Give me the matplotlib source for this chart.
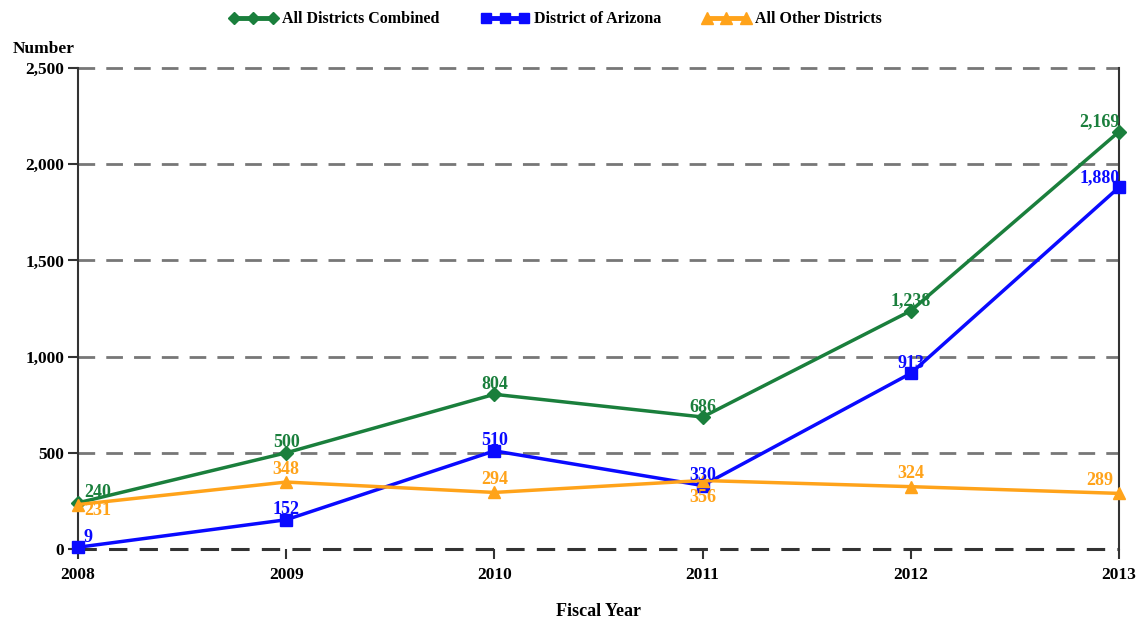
import matplotlib.pyplot as plt

# --- DANE ---
years = [2008, 2009, 2010, 2011, 2012, 2013]
combined = [240, 500, 804, 686, 1238, 2169]
arizona = [9, 152, 510, 330, 913, 1880]
others = [231, 348, 294, 356, 324, 289]
combined_labels = ['240', '500', '804', '686', '1,238', '2,169']
arizona_labels = ['9', '152', '510', '330', '913', '1,880']
others_labels = ['231', '348', '294', '356', '324', '289']

GREEN = '#1a7f3c'
BLUE = '#0a0aff'
ORANGE = '#ffa31a'

plt.rcParams['font.family'] = ['Liberation Serif', 'DejaVu Serif']
plt.rcParams['font.weight'] = 'bold'

fig = plt.figure(figsize=(11.41, 6.19), dpi=100)
ax = fig.add_axes([78 / 1141, 1 - 549 / 619, (1119 - 78) / 1141, (549 - 68) / 619])

# siatka pozioma (przerywana)
for yv in [500, 1000, 1500, 2000, 2500]:
    ax.axhline(yv, color='#777777', linestyle=(0, (6, 4)), linewidth=2, zorder=0)
ax.axhline(0, color='#333333', linestyle=(0, (6, 4)), linewidth=2.2, zorder=0)

ax.plot(years, combined, color=GREEN, marker='D', markersize=7, linewidth=2.5, label='All Districts Combined', zorder=3)
ax.plot(years, arizona, color=BLUE, marker='s', markersize=8, linewidth=2.5, label='District of Arizona', zorder=3)
ax.plot(years, others, color=ORANGE, marker='^', markersize=9, linewidth=2.5, label='All Other Districts', zorder=3)

# etykiety wartości (przesunięcia w punktach)
def label_dx(i, n):
    if i == 0:
        return 14
    if i == n - 1:
        return -14
    return 0

n = len(years)
FS = 13
for i, (x, y, t) in enumerate(zip(years, combined, combined_labels)):
    ax.annotate(t, (x, y), xytext=(label_dx(i, n), 1), textcoords='offset points',
                ha='center', va='bottom', color=GREEN, fontsize=FS, fontweight='bold')
for i, (x, y, t) in enumerate(zip(years, arizona, arizona_labels)):
    dx = 7 if i == 0 else label_dx(i, n)
    ax.annotate(t, (x, y), xytext=(dx, 1), textcoords='offset points',
                ha='center', va='bottom', color=BLUE, fontsize=FS, fontweight='bold')
for i, (x, y, t) in enumerate(zip(years, others, others_labels)):
    if i == 0:
        dy, va = 2, 'top'
    elif i == 3:
        dy, va = -6, 'top'
    else:
        dy, va = 3, 'bottom'
    ax.annotate(t, (x, y), xytext=(label_dx(i, n), dy), textcoords='offset points',
                ha='center', va=va, color=ORANGE, fontsize=FS, fontweight='bold')

ax.set_xlim(2008, 2013)
ax.set_ylim(0, 2500)
ax.set_xticks(years)
ax.set_yticks([0, 500, 1000, 1500, 2000, 2500])
ax.set_yticklabels(['0', '500', '1,000', '1,500', '2,000', '2,500'])
ax.tick_params(axis='both', labelsize=12.5, width=1.5, length=7, colors='#333333', labelcolor='black')
ax.tick_params(axis='x', pad=6)
ax.tick_params(axis='y', pad=3)

for side in ['top', 'bottom']:
    ax.spines[side].set_visible(False)
for side in ['left', 'right']:
    ax.spines[side].set_linewidth(1.5)
    ax.spines[side].set_color('#333333')

ax.set_xlabel('Fiscal Year', fontsize=13, fontweight='bold', labelpad=14)
fig.text(75 / 1141, 1 - 49 / 619, 'Number', ha='right', va='center', fontsize=12.5, fontweight='bold')

leg = fig.legend(loc='upper center', bbox_to_anchor=(0.487, 1.005), ncol=3, frameon=False, numpoints=3,
                 fontsize=11.5, handlelength=3.0, columnspacing=2.6, handletextpad=0.3, markerscale=0.9)
for h in leg.legend_handles:
    h.set_linewidth(3.5)

for line in ax.lines:
    line.set_clip_on(False)

fig.savefig('out.png', dpi=100)
